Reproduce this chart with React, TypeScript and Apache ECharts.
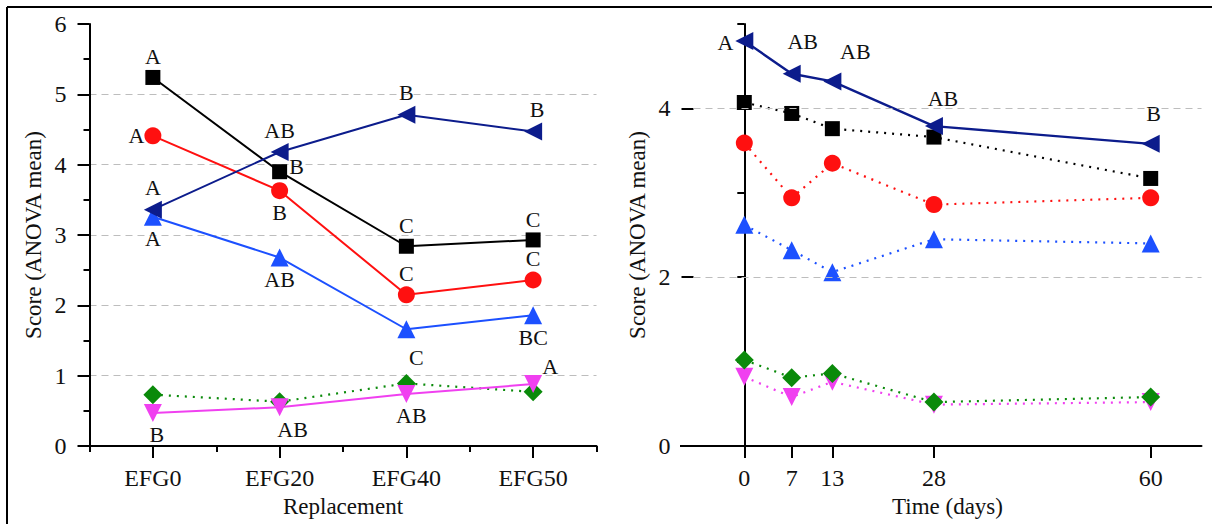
import React, { useEffect, useRef } from 'react';
import * as echarts from 'echarts';

// ---------- data ----------
const replacementCategories = ['EFG0', 'EFG20', 'EFG40', 'EFG50'];
const leftBlack = [5.24, 3.9, 2.84, 2.93];
const leftRed = [4.41, 3.63, 2.15, 2.36];
const leftNavy = [3.36, 4.18, 4.71, 4.47];
const leftBlue = [3.26, 2.68, 1.66, 1.86];
const leftGreen = [0.73, 0.63, 0.89, 0.77];
const leftMagenta = [0.47, 0.55, 0.74, 0.88];

const leftBlackLetters = ['A', 'B', 'C', 'C'];
const leftRedLetters = ['A', 'B', 'C', 'C'];
const leftNavyLetters = ['A', 'AB', 'B', 'B'];
const leftBlueLetters = ['A', 'AB', 'C', 'BC'];
const leftMagentaLetters = ['B', 'AB', 'AB', 'A'];

const timeDays = [0, 7, 13, 28, 60];
const rightNavy = [4.8, 4.41, 4.32, 3.79, 3.58];
const rightBlack = [4.07, 3.94, 3.76, 3.66, 3.17];
const rightRed = [3.59, 2.94, 3.35, 2.86, 2.94];
const rightBlue = [2.62, 2.32, 2.06, 2.45, 2.4];
const rightGreen = [1.02, 0.81, 0.86, 0.52, 0.58];
const rightMagenta = [0.82, 0.58, 0.76, 0.49, 0.52];
const rightNavyLetters = ['A', 'AB', 'AB', 'AB', 'B'];

const leftYTicks = [0, 1, 2, 3, 4, 5, 6];
const rightYLabels = [0, 2, 4];
const rightGridValues = [2, 4];

// ---------- styles ----------
const FONT = '"Liberation Serif", "Times New Roman", serif';
const C_BLACK = '#000000';
const C_RED = '#ff1010';
const C_NAVY = '#0c1c8c';
const C_BLUE = '#1c50ff';
const C_GREEN = '#0a8a0a';
const C_MAGENTA = '#f040f0';

type Pos = 'top' | 'bottom' | 'left' | 'right';
const leftBlackPos: Pos[] = ['top', 'right', 'top', 'top'];
const leftBlackOff = [[0, 0], [0, -5], [0, 0], [0, 0]];
const leftRedPos: Pos[] = ['left', 'bottom', 'top', 'top'];
const leftRedOff = [[2, 0], [0, 0], [0, 0], [0, 0]];
const leftNavyPos: Pos[] = ['top', 'top', 'top', 'top'];
const leftNavyOff = [[0, 0], [0, 0], [0, 0], [4, 0]];
const leftBluePos: Pos[] = ['bottom', 'bottom', 'bottom', 'bottom'];
const leftBlueOff = [[0, 0], [0, 0], [10, 6], [0, 0]];
const leftMagentaPos: Pos[] = ['bottom', 'bottom', 'bottom', 'top'];
const leftMagentaOff = [[4, 0], [13, 0], [5, 0], [17, 4]];
const rightNavyPos: Pos[] = ['left', 'top', 'top', 'top', 'top'];
const rightNavyOff = [[0, 2], [11, -10], [23, -8], [9, -6], [3, -8]];

const labelText = { fontFamily: FONT, fontSize: 22, color: '#111' };
const tickText = { fontFamily: FONT, fontSize: 24, color: '#111' };
const titleText = { fontFamily: FONT, fontSize: 23, color: '#111' };

function labeled(values: number[], letters: string[], pos: Pos[], off: number[][], xs?: number[]) {
  return values.map((v, i) => ({
    value: xs ? [xs[i], v] : v,
    label: {
      show: true,
      formatter: letters[i],
      position: pos[i],
      offset: off[i],
      distance: 2,
      ...labelText,
    },
  }));
}

function pairs(xs: number[], ys: number[]) {
  return ys.map((v, i) => [xs[i], v]);
}

const axisLineStyle = { color: '#000', width: 2 };

export default function App() {
  const ref = useRef<HTMLDivElement>(null);

  useEffect(() => {
    if (!ref.current) return;
    const chart = echarts.init(ref.current, null, { renderer: 'svg' });

    const solid = (color: string) => ({ color, width: 2, type: 'solid' as const });
    const dotted = (color: string) => ({ color, width: 2.2, type: [2, 6] });

    const option: any = {
      animation: false,
      backgroundColor: '#ffffff',
      grid: [
        { left: 89.5, top: 24, width: 507, height: 422 },
        { left: 693.5, top: 24, width: 508, height: 422 },
      ],
      xAxis: [
        {
          gridIndex: 0,
          type: 'category',
          position: 'bottom',
          data: replacementCategories,
          boundaryGap: true,
          axisLine: { show: true, lineStyle: axisLineStyle },
          axisTick: { show: true, alignWithLabel: true, length: 12, lineStyle: axisLineStyle },
          axisLabel: { ...tickText, margin: 20 },
          splitLine: { show: false },
          name: 'Replacement',
          nameLocation: 'middle',
          nameGap: 48,
          nameTextStyle: titleText,
        },
        {
          gridIndex: 0,
          type: 'category',
          position: 'bottom',
          data: replacementCategories,
          boundaryGap: true,
          axisLine: { show: false },
          axisTick: { show: true, alignWithLabel: false, length: 6, lineStyle: axisLineStyle },
          axisLabel: { show: false },
          splitLine: { show: false },
        },
        {
          gridIndex: 1,
          type: 'value',
          position: 'bottom',
          min: -7.5,
          max: 67.5,
          axisLine: { show: true, lineStyle: axisLineStyle },
          axisTick: { show: true, length: 12, lineStyle: axisLineStyle, customValues: timeDays },
          axisLabel: { ...tickText, margin: 20, customValues: timeDays },
          splitLine: { show: false },
          name: 'Time (days)',
          nameLocation: 'middle',
          nameGap: 48,
          nameTextStyle: titleText,
        },
      ],
      yAxis: [
        {
          gridIndex: 0,
          type: 'value',
          position: 'left',
          min: leftYTicks[0],
          max: leftYTicks[leftYTicks.length - 1],
          interval: 1,
          axisLine: { show: true, lineStyle: axisLineStyle },
          axisTick: { show: true, length: 12, lineStyle: axisLineStyle },
          minorTick: { show: true, splitNumber: 2, length: 6, lineStyle: axisLineStyle },
          axisLabel: { ...tickText, margin: 23 },
          splitLine: {
            show: true,
            showMinLine: false,
            showMaxLine: false,
            lineStyle: { color: '#bdbdbd', width: 1, type: [7, 5] },
          },
          name: 'Score (ANOVA mean)',
          nameLocation: 'middle',
          nameGap: 45,
          nameTextStyle: titleText,
        },
        {
          gridIndex: 1,
          type: 'value',
          position: 'left',
          min: 0,
          max: 5,
          interval: 1,
          axisLine: { show: true, lineStyle: axisLineStyle },
          axisTick: { show: true, length: 7, lineStyle: axisLineStyle },
          axisLabel: { show: false },
          splitLine: { show: false },
        },
        {
          gridIndex: 1,
          type: 'value',
          position: 'left',
          min: 0,
          max: 5,
          interval: 2,
          axisLine: { show: false },
          axisTick: { show: true, length: 12, lineStyle: axisLineStyle, customValues: rightYLabels },
          axisLabel: { ...tickText, margin: 23, customValues: rightYLabels },
          splitLine: { show: false },
          name: 'Score (ANOVA mean)',
          nameLocation: 'middle',
          nameGap: 45,
          nameTextStyle: titleText,
        },
      ],
      graphic: [
        { type: 'line', shape: { x1: 7, y1: 7, x2: 1212, y2: 7 }, style: { stroke: '#000', lineWidth: 2 } },
        { type: 'line', shape: { x1: 7, y1: 7, x2: 7, y2: 524 }, style: { stroke: '#000', lineWidth: 2 } },
        { type: 'line', shape: { x1: 78, y1: 446, x2: 90, y2: 446 }, style: { stroke: '#000', lineWidth: 2 } },
        { type: 'line', shape: { x1: 680, y1: 446, x2: 694, y2: 446 }, style: { stroke: '#000', lineWidth: 2 } },
      ],
      series: [
        // ---- left panel ----
        {
          type: 'line', xAxisIndex: 0, yAxisIndex: 0,
          data: leftGreen,
          symbol: 'diamond', symbolSize: 19,
          itemStyle: { color: C_GREEN }, lineStyle: dotted(C_GREEN),
        },
        {
          type: 'line', xAxisIndex: 0, yAxisIndex: 0,
          data: labeled(leftMagenta, leftMagentaLetters, leftMagentaPos, leftMagentaOff),
          symbol: 'triangle', symbolSize: 18, symbolRotate: 180,
          itemStyle: { color: C_MAGENTA }, lineStyle: solid(C_MAGENTA),
        },
        {
          type: 'line', xAxisIndex: 0, yAxisIndex: 0,
          data: labeled(leftBlue, leftBlueLetters, leftBluePos, leftBlueOff),
          symbol: 'triangle', symbolSize: 18,
          itemStyle: { color: C_BLUE }, lineStyle: solid(C_BLUE),
        },
        {
          type: 'line', xAxisIndex: 0, yAxisIndex: 0,
          data: labeled(leftRed, leftRedLetters, leftRedPos, leftRedOff),
          symbol: 'circle', symbolSize: 17,
          itemStyle: { color: C_RED }, lineStyle: solid(C_RED),
        },
        {
          type: 'line', xAxisIndex: 0, yAxisIndex: 0,
          data: labeled(leftBlack, leftBlackLetters, leftBlackPos, leftBlackOff),
          symbol: 'rect', symbolSize: 15,
          itemStyle: { color: C_BLACK }, lineStyle: solid(C_BLACK),
        },
        {
          type: 'line', xAxisIndex: 0, yAxisIndex: 0,
          data: labeled(leftNavy, leftNavyLetters, leftNavyPos, leftNavyOff),
          symbol: 'triangle', symbolSize: 18, symbolRotate: 90,
          itemStyle: { color: C_NAVY }, lineStyle: solid(C_NAVY),
        },
        // ---- right panel ----
        {
          type: 'line', xAxisIndex: 2, yAxisIndex: 1,
          data: pairs(timeDays, rightMagenta),
          symbol: 'triangle', symbolSize: 18, symbolRotate: 180,
          itemStyle: { color: C_MAGENTA }, lineStyle: dotted(C_MAGENTA),
          markLine: {
            silent: true,
            symbol: 'none',
            label: { show: false },
            lineStyle: { color: '#bdbdbd', width: 1, type: [7, 5] },
            data: rightGridValues.map((v) => ({ yAxis: v })),
          },
        },
        {
          type: 'line', xAxisIndex: 2, yAxisIndex: 1,
          data: pairs(timeDays, rightGreen),
          symbol: 'diamond', symbolSize: 19,
          itemStyle: { color: C_GREEN }, lineStyle: dotted(C_GREEN),
        },
        {
          type: 'line', xAxisIndex: 2, yAxisIndex: 1,
          data: pairs(timeDays, rightBlue),
          symbol: 'triangle', symbolSize: 18,
          itemStyle: { color: C_BLUE }, lineStyle: dotted(C_BLUE),
        },
        {
          type: 'line', xAxisIndex: 2, yAxisIndex: 1,
          data: pairs(timeDays, rightRed),
          symbol: 'circle', symbolSize: 17,
          itemStyle: { color: C_RED }, lineStyle: dotted(C_RED),
        },
        {
          type: 'line', xAxisIndex: 2, yAxisIndex: 1,
          data: pairs(timeDays, rightBlack),
          symbol: 'rect', symbolSize: 15,
          itemStyle: { color: C_BLACK }, lineStyle: dotted(C_BLACK),
        },
        {
          type: 'line', xAxisIndex: 2, yAxisIndex: 1,
          data: labeled(rightNavy, rightNavyLetters, rightNavyPos, rightNavyOff, timeDays),
          symbol: 'triangle', symbolSize: 18, symbolRotate: 90,
          itemStyle: { color: C_NAVY }, lineStyle: { color: C_NAVY, width: 2.4, type: 'solid' },
        },
      ],
    };

    chart.setOption(option);
    return () => chart.dispose();
  }, []);

  return (
    <div
      ref={ref}
      style={{ position: 'fixed', left: 0, top: 0, width: 1212, height: 524, background: '#fff' }}
    />
  );
}
